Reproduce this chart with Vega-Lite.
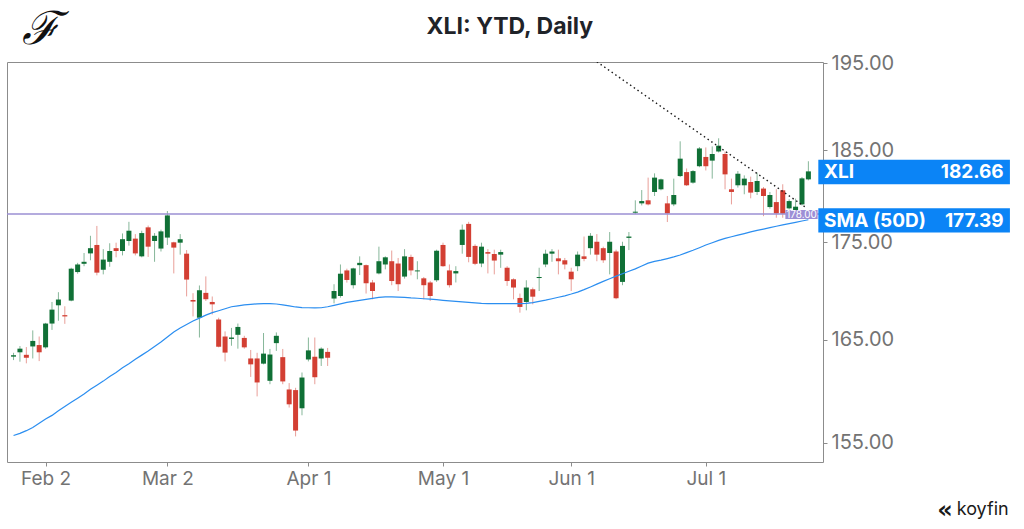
{
  "$schema": "https://vega.github.io/schema/vega-lite/v6.json",
  "description": "XLI: YTD, Daily candlesticks with 50-day SMA",
  "width": 816,
  "height": 400,
  "autosize": {"type": "none"},
  "padding": {"left": 7, "top": 62, "right": 201, "bottom": 67},
  "background": "white",
  "config": {
    "font": "Inter",
    "view": {"stroke": "#8c8c8c", "strokeWidth": 1},
    "axis": {"domain": false, "grid": false, "tickColor": "#8c8c8c", "tickSize": 4, "labelColor": "#737373", "labelFont": "Inter", "labelFontSize": 20, "labelFlush": false, "labelOverlap": false}
  },
  "datasets": {
    "candles": [
      {"d": "2026-01-26", "t": 0, "o": 163.30, "h": 163.68, "l": 162.96, "c": 163.44, "sma": 155.70},
      {"d": "2026-01-27", "t": 1, "o": 163.73, "h": 164.35, "l": 162.80, "c": 164.09, "sma": 155.90},
      {"d": "2026-01-28", "t": 2, "o": 163.48, "h": 164.25, "l": 162.64, "c": 163.19, "sma": 156.15},
      {"d": "2026-01-29", "t": 3, "o": 164.31, "h": 165.91, "l": 163.12, "c": 164.86, "sma": 156.45},
      {"d": "2026-01-30", "t": 4, "o": 164.45, "h": 165.30, "l": 162.86, "c": 163.73, "sma": 156.85},
      {"d": "2026-02-02", "t": 5, "o": 164.22, "h": 166.67, "l": 164.09, "c": 166.60, "sma": 157.25},
      {"d": "2026-02-03", "t": 6, "o": 166.60, "h": 168.79, "l": 165.96, "c": 168.01, "sma": 157.60},
      {"d": "2026-02-04", "t": 7, "o": 168.45, "h": 169.79, "l": 166.88, "c": 169.04, "sma": 158.05},
      {"d": "2026-02-05", "t": 8, "o": 167.45, "h": 168.35, "l": 166.57, "c": 167.32, "sma": 158.45},
      {"d": "2026-02-06", "t": 9, "o": 168.93, "h": 172.32, "l": 168.86, "c": 172.22, "sma": 158.85},
      {"d": "2026-02-09", "t": 10, "o": 171.87, "h": 172.83, "l": 171.70, "c": 172.66, "sma": 159.25},
      {"d": "2026-02-10", "t": 11, "o": 172.73, "h": 173.86, "l": 172.48, "c": 172.94, "sma": 159.65},
      {"d": "2026-02-11", "t": 12, "o": 173.82, "h": 175.68, "l": 173.10, "c": 174.37, "sma": 160.10},
      {"d": "2026-02-12", "t": 13, "o": 174.71, "h": 176.73, "l": 171.53, "c": 171.81, "sma": 160.50},
      {"d": "2026-02-13", "t": 14, "o": 172.11, "h": 174.27, "l": 171.63, "c": 173.17, "sma": 160.90},
      {"d": "2026-02-17", "t": 15, "o": 172.94, "h": 174.89, "l": 172.42, "c": 174.07, "sma": 161.35},
      {"d": "2026-02-18", "t": 16, "o": 174.37, "h": 174.95, "l": 173.41, "c": 174.07, "sma": 161.75},
      {"d": "2026-02-19", "t": 17, "o": 174.07, "h": 175.93, "l": 173.61, "c": 175.32, "sma": 162.20},
      {"d": "2026-02-20", "t": 18, "o": 175.13, "h": 177.17, "l": 174.64, "c": 176.22, "sma": 162.60},
      {"d": "2026-02-23", "t": 19, "o": 175.38, "h": 175.86, "l": 173.61, "c": 173.82, "sma": 163.05},
      {"d": "2026-02-24", "t": 20, "o": 173.51, "h": 176.22, "l": 173.41, "c": 175.97, "sma": 163.45},
      {"d": "2026-02-25", "t": 21, "o": 176.58, "h": 176.77, "l": 173.45, "c": 174.53, "sma": 163.85},
      {"d": "2026-02-26", "t": 22, "o": 175.13, "h": 175.97, "l": 172.94, "c": 175.68, "sma": 164.30},
      {"d": "2026-02-27", "t": 23, "o": 174.33, "h": 176.33, "l": 174.02, "c": 176.15, "sma": 164.75},
      {"d": "2026-03-02", "t": 24, "o": 175.49, "h": 178.33, "l": 174.71, "c": 177.86, "sma": 165.25},
      {"d": "2026-03-03", "t": 25, "o": 174.99, "h": 175.05, "l": 171.73, "c": 174.43, "sma": 165.75},
      {"d": "2026-03-04", "t": 26, "o": 174.95, "h": 175.86, "l": 173.69, "c": 175.32, "sma": 166.15},
      {"d": "2026-03-05", "t": 27, "o": 173.79, "h": 174.17, "l": 169.36, "c": 171.09, "sma": 166.50},
      {"d": "2026-03-06", "t": 28, "o": 168.99, "h": 169.69, "l": 167.32, "c": 168.83, "sma": 166.85},
      {"d": "2026-03-09", "t": 29, "o": 167.19, "h": 170.48, "l": 165.20, "c": 169.99, "sma": 167.15},
      {"d": "2026-03-10", "t": 30, "o": 169.72, "h": 171.42, "l": 168.89, "c": 169.07, "sma": 167.45},
      {"d": "2026-03-11", "t": 31, "o": 168.79, "h": 169.35, "l": 167.52, "c": 168.55, "sma": 167.70},
      {"d": "2026-03-12", "t": 32, "o": 167.01, "h": 167.19, "l": 164.22, "c": 164.28, "sma": 167.90},
      {"d": "2026-03-13", "t": 33, "o": 165.30, "h": 165.81, "l": 162.83, "c": 163.70, "sma": 168.10},
      {"d": "2026-03-16", "t": 34, "o": 165.06, "h": 166.16, "l": 164.38, "c": 165.20, "sma": 168.30},
      {"d": "2026-03-17", "t": 35, "o": 165.47, "h": 166.60, "l": 164.09, "c": 166.26, "sma": 168.40},
      {"d": "2026-03-18", "t": 36, "o": 165.16, "h": 165.37, "l": 164.09, "c": 164.22, "sma": 168.50},
      {"d": "2026-03-19", "t": 37, "o": 163.12, "h": 163.96, "l": 161.31, "c": 162.54, "sma": 168.55},
      {"d": "2026-03-20", "t": 38, "o": 163.12, "h": 163.68, "l": 159.42, "c": 160.77, "sma": 168.60},
      {"d": "2026-03-23", "t": 39, "o": 162.61, "h": 165.65, "l": 162.54, "c": 163.60, "sma": 168.62},
      {"d": "2026-03-24", "t": 40, "o": 160.93, "h": 164.06, "l": 160.60, "c": 163.51, "sma": 168.62},
      {"d": "2026-03-25", "t": 41, "o": 164.64, "h": 165.71, "l": 163.87, "c": 165.37, "sma": 168.58},
      {"d": "2026-03-26", "t": 42, "o": 163.25, "h": 164.06, "l": 160.60, "c": 160.87, "sma": 168.50},
      {"d": "2026-03-27", "t": 43, "o": 160.09, "h": 160.71, "l": 158.35, "c": 158.66, "sma": 168.40},
      {"d": "2026-03-30", "t": 44, "o": 160.03, "h": 160.25, "l": 155.61, "c": 156.16, "sma": 168.28},
      {"d": "2026-03-31", "t": 45, "o": 158.28, "h": 161.74, "l": 157.61, "c": 161.25, "sma": 168.22},
      {"d": "2026-04-01", "t": 46, "o": 163.02, "h": 165.20, "l": 162.83, "c": 163.92, "sma": 168.20},
      {"d": "2026-04-02", "t": 47, "o": 163.29, "h": 165.20, "l": 160.60, "c": 161.28, "sma": 168.18},
      {"d": "2026-04-06", "t": 48, "o": 163.12, "h": 164.22, "l": 162.38, "c": 164.09, "sma": 168.20},
      {"d": "2026-04-07", "t": 49, "o": 163.77, "h": 164.16, "l": 162.38, "c": 163.19, "sma": 168.30},
      {"d": "2026-04-08", "t": 50, "o": 169.14, "h": 170.61, "l": 168.65, "c": 169.91, "sma": 168.45},
      {"d": "2026-04-09", "t": 51, "o": 169.40, "h": 172.66, "l": 169.23, "c": 171.70, "sma": 168.60},
      {"d": "2026-04-10", "t": 52, "o": 172.04, "h": 172.22, "l": 170.78, "c": 171.05, "sma": 168.75},
      {"d": "2026-04-13", "t": 53, "o": 170.51, "h": 172.32, "l": 170.17, "c": 172.25, "sma": 168.85},
      {"d": "2026-04-14", "t": 54, "o": 172.59, "h": 173.51, "l": 171.56, "c": 172.83, "sma": 168.95},
      {"d": "2026-04-15", "t": 55, "o": 172.59, "h": 172.66, "l": 169.65, "c": 170.71, "sma": 169.05},
      {"d": "2026-04-16", "t": 56, "o": 170.79, "h": 171.05, "l": 169.06, "c": 169.91, "sma": 169.15},
      {"d": "2026-04-17", "t": 57, "o": 171.73, "h": 174.53, "l": 171.63, "c": 173.00, "sma": 169.25},
      {"d": "2026-04-20", "t": 58, "o": 172.66, "h": 173.51, "l": 172.15, "c": 173.41, "sma": 169.30},
      {"d": "2026-04-21", "t": 59, "o": 173.00, "h": 174.12, "l": 170.51, "c": 170.94, "sma": 169.30},
      {"d": "2026-04-22", "t": 60, "o": 172.76, "h": 173.34, "l": 169.91, "c": 170.61, "sma": 169.28},
      {"d": "2026-04-23", "t": 61, "o": 171.40, "h": 174.27, "l": 171.19, "c": 173.51, "sma": 169.25},
      {"d": "2026-04-24", "t": 62, "o": 173.45, "h": 173.69, "l": 171.53, "c": 172.04, "sma": 169.20},
      {"d": "2026-04-27", "t": 63, "o": 171.94, "h": 173.00, "l": 171.12, "c": 172.04, "sma": 169.17},
      {"d": "2026-04-28", "t": 64, "o": 171.22, "h": 171.36, "l": 169.06, "c": 170.51, "sma": 169.12},
      {"d": "2026-04-29", "t": 65, "o": 170.79, "h": 170.95, "l": 168.89, "c": 169.40, "sma": 169.07},
      {"d": "2026-04-30", "t": 66, "o": 171.02, "h": 174.21, "l": 170.85, "c": 174.10, "sma": 169.02},
      {"d": "2026-05-01", "t": 67, "o": 174.71, "h": 174.95, "l": 172.42, "c": 172.48, "sma": 168.96},
      {"d": "2026-05-04", "t": 68, "o": 172.04, "h": 172.66, "l": 170.27, "c": 170.51, "sma": 168.90},
      {"d": "2026-05-05", "t": 69, "o": 171.73, "h": 172.48, "l": 170.79, "c": 171.97, "sma": 168.85},
      {"d": "2026-05-06", "t": 70, "o": 174.71, "h": 176.88, "l": 173.79, "c": 176.33, "sma": 168.80},
      {"d": "2026-05-07", "t": 71, "o": 176.95, "h": 177.17, "l": 172.89, "c": 173.45, "sma": 168.75},
      {"d": "2026-05-08", "t": 72, "o": 174.61, "h": 174.78, "l": 172.59, "c": 172.73, "sma": 168.70},
      {"d": "2026-05-11", "t": 73, "o": 172.76, "h": 174.95, "l": 172.38, "c": 174.53, "sma": 168.65},
      {"d": "2026-05-12", "t": 74, "o": 173.96, "h": 174.27, "l": 171.73, "c": 173.79, "sma": 168.63},
      {"d": "2026-05-13", "t": 75, "o": 173.76, "h": 174.21, "l": 171.63, "c": 173.07, "sma": 168.62},
      {"d": "2026-05-14", "t": 76, "o": 173.69, "h": 174.21, "l": 172.31, "c": 173.96, "sma": 168.62},
      {"d": "2026-05-15", "t": 77, "o": 172.32, "h": 172.48, "l": 170.44, "c": 170.94, "sma": 168.62},
      {"d": "2026-05-18", "t": 78, "o": 171.12, "h": 171.22, "l": 169.06, "c": 170.27, "sma": 168.62},
      {"d": "2026-05-19", "t": 79, "o": 169.20, "h": 169.65, "l": 167.70, "c": 168.28, "sma": 168.62},
      {"d": "2026-05-20", "t": 80, "o": 168.79, "h": 171.02, "l": 167.94, "c": 170.27, "sma": 168.64},
      {"d": "2026-05-21", "t": 81, "o": 170.09, "h": 170.27, "l": 168.55, "c": 169.33, "sma": 168.72},
      {"d": "2026-05-22", "t": 82, "o": 171.25, "h": 172.32, "l": 169.91, "c": 171.36, "sma": 168.85},
      {"d": "2026-05-26", "t": 83, "o": 172.66, "h": 174.21, "l": 172.38, "c": 173.79, "sma": 168.97},
      {"d": "2026-05-27", "t": 84, "o": 173.79, "h": 174.27, "l": 172.94, "c": 174.02, "sma": 169.12},
      {"d": "2026-05-28", "t": 85, "o": 173.30, "h": 174.21, "l": 171.63, "c": 173.00, "sma": 169.27},
      {"d": "2026-05-29", "t": 86, "o": 173.10, "h": 173.34, "l": 172.15, "c": 172.66, "sma": 169.42},
      {"d": "2026-06-01", "t": 87, "o": 171.91, "h": 172.32, "l": 169.91, "c": 171.12, "sma": 169.60},
      {"d": "2026-06-02", "t": 88, "o": 172.48, "h": 174.02, "l": 171.97, "c": 173.69, "sma": 169.80},
      {"d": "2026-06-03", "t": 89, "o": 173.51, "h": 175.60, "l": 173.00, "c": 173.24, "sma": 170.05},
      {"d": "2026-06-04", "t": 90, "o": 174.37, "h": 175.97, "l": 173.69, "c": 175.68, "sma": 170.33},
      {"d": "2026-06-05", "t": 91, "o": 175.05, "h": 175.86, "l": 173.00, "c": 173.69, "sma": 170.62},
      {"d": "2026-06-08", "t": 92, "o": 174.37, "h": 174.53, "l": 172.83, "c": 173.10, "sma": 170.90},
      {"d": "2026-06-09", "t": 93, "o": 173.86, "h": 176.08, "l": 171.63, "c": 175.05, "sma": 171.18},
      {"d": "2026-06-10", "t": 94, "o": 174.02, "h": 174.21, "l": 169.07, "c": 169.17, "sma": 171.45},
      {"d": "2026-06-11", "t": 95, "o": 170.85, "h": 175.05, "l": 170.51, "c": 174.61, "sma": 171.70},
      {"d": "2026-06-12", "t": 96, "o": 175.46, "h": 176.08, "l": 174.17, "c": 175.60, "sma": 171.95},
      {"d": "2026-06-15", "t": 97, "o": 178.15, "h": 179.49, "l": 178.00, "c": 178.26, "sma": 172.20},
      {"d": "2026-06-16", "t": 98, "o": 179.16, "h": 180.61, "l": 178.94, "c": 179.41, "sma": 172.50},
      {"d": "2026-06-17", "t": 99, "o": 179.49, "h": 181.97, "l": 178.94, "c": 179.05, "sma": 172.80},
      {"d": "2026-06-18", "t": 100, "o": 180.40, "h": 182.44, "l": 179.96, "c": 181.97, "sma": 172.98},
      {"d": "2026-06-22", "t": 101, "o": 180.69, "h": 181.86, "l": 180.58, "c": 181.78, "sma": 173.12},
      {"d": "2026-06-23", "t": 102, "o": 179.16, "h": 179.96, "l": 177.15, "c": 178.07, "sma": 173.28},
      {"d": "2026-06-24", "t": 103, "o": 179.05, "h": 181.86, "l": 178.86, "c": 180.07, "sma": 173.45},
      {"d": "2026-06-25", "t": 104, "o": 182.14, "h": 186.01, "l": 182.03, "c": 184.07, "sma": 173.65},
      {"d": "2026-06-26", "t": 105, "o": 182.58, "h": 182.98, "l": 181.05, "c": 181.13, "sma": 173.90},
      {"d": "2026-06-29", "t": 106, "o": 181.42, "h": 182.80, "l": 181.31, "c": 182.69, "sma": 174.15},
      {"d": "2026-06-30", "t": 107, "o": 183.23, "h": 185.37, "l": 183.12, "c": 185.21, "sma": 174.42},
      {"d": "2026-07-01", "t": 108, "o": 184.26, "h": 185.32, "l": 182.76, "c": 183.23, "sma": 174.70},
      {"d": "2026-07-02", "t": 109, "o": 183.85, "h": 185.44, "l": 181.86, "c": 184.59, "sma": 174.95},
      {"d": "2026-07-06", "t": 110, "o": 184.87, "h": 186.35, "l": 184.76, "c": 185.52, "sma": 175.20},
      {"d": "2026-07-07", "t": 111, "o": 184.59, "h": 184.87, "l": 180.69, "c": 182.33, "sma": 175.40},
      {"d": "2026-07-08", "t": 112, "o": 180.69, "h": 181.86, "l": 179.05, "c": 180.40, "sma": 175.58},
      {"d": "2026-07-09", "t": 113, "o": 181.13, "h": 182.69, "l": 180.88, "c": 182.40, "sma": 175.75},
      {"d": "2026-07-10", "t": 114, "o": 181.13, "h": 182.22, "l": 180.15, "c": 181.86, "sma": 175.92},
      {"d": "2026-07-13", "t": 115, "o": 181.49, "h": 182.08, "l": 179.71, "c": 180.33, "sma": 176.10},
      {"d": "2026-07-14", "t": 116, "o": 180.40, "h": 182.51, "l": 180.07, "c": 181.60, "sma": 176.25},
      {"d": "2026-07-15", "t": 117, "o": 180.77, "h": 180.94, "l": 177.78, "c": 179.96, "sma": 176.40},
      {"d": "2026-07-16", "t": 118, "o": 178.76, "h": 180.40, "l": 178.58, "c": 180.07, "sma": 176.55},
      {"d": "2026-07-17", "t": 119, "o": 179.30, "h": 180.69, "l": 177.61, "c": 178.07, "sma": 176.70},
      {"d": "2026-07-20", "t": 120, "o": 180.58, "h": 181.24, "l": 177.61, "c": 178.04, "sma": 176.85},
      {"d": "2026-07-21", "t": 121, "o": 178.62, "h": 179.60, "l": 178.51, "c": 179.41, "sma": 176.98},
      {"d": "2026-07-22", "t": 122, "o": 178.43, "h": 179.68, "l": 178.15, "c": 178.80, "sma": 177.12},
      {"d": "2026-07-23", "t": 123, "o": 179.05, "h": 182.03, "l": 178.94, "c": 181.89, "sma": 177.26},
      {"d": "2026-07-24", "t": 124, "o": 181.78, "h": 183.78, "l": 181.67, "c": 182.66, "sma": 177.39}
    ],
    "levels": [{"level": 178}],
    "trend": [{"t": 91, "p": 195.18}, {"t": 123.5, "p": 178.76}],
    "tags": [{"name": "XLI", "value": 182.66}, {"name": "SMA (50D)", "value": 177.39}],
    "brand": [{"name": "koyfin", "title": "XLI: YTD, Daily"}]
  },
  "data": {"name": "candles"},
  "layer": [
    {
      "mark": {"type": "rule", "strokeWidth": 1, "opacity": 0.5},
      "encoding": {
        "x": {
          "field": "t", "type": "quantitative",
          "scale": {"domain": [-0.24, 125.5], "nice": false, "zero": false},
          "axis": {
            "title": null,
            "values": [5, 24, 46, 67, 87, 108],
            "labelExpr": "datum.value == 5 ? 'Feb 2' : datum.value == 24 ? 'Mar 2' : datum.value == 46 ? 'Apr 1' : datum.value == 67 ? 'May 1' : datum.value == 87 ? 'Jun 1' : 'Jul 1'",
            "labelFontSize": 19,
            "labelPadding": 3
          }
        },
        "y": {
          "field": "l", "type": "quantitative",
          "scale": {"type": "log", "domain": [153.22, 195.15], "nice": false, "zero": false},
          "axis": {"title": null, "orient": "right", "values": [155, 165, 175, 185, 195], "format": ".2f", "labelPadding": 4}
        },
        "y2": {"field": "h"},
        "color": {"condition": {"test": "datum.c >= datum.o", "value": "#107036"}, "value": "#d33f33"}
      }
    },
    {
      "mark": {"type": "bar", "width": 5, "minBandSize": 1.5},
      "encoding": {
        "x": {"field": "t", "type": "quantitative"},
        "y": {"field": "o", "type": "quantitative", "title": null},
        "y2": {"field": "c"},
        "color": {"condition": {"test": "datum.c >= datum.o", "value": "#107036"}, "value": "#d33f33"}
      }
    },
    {
      "mark": {"type": "line", "color": "#2b8ef0", "strokeWidth": 1.2},
      "encoding": {
        "x": {"field": "t", "type": "quantitative"},
        "y": {"field": "sma", "type": "quantitative", "title": null}
      }
    },
    {
      "data": {"name": "levels"},
      "mark": {"type": "rule", "color": "#9b8fd3", "strokeWidth": 1.5},
      "encoding": {"y": {"field": "level", "type": "quantitative", "title": null}}
    },
    {
      "data": {"name": "trend"},
      "mark": {"type": "line", "color": "#1a1a1a", "strokeWidth": 1.4, "strokeDash": [1.5, 3], "clip": true},
      "encoding": {
        "x": {"field": "t", "type": "quantitative"},
        "y": {"field": "p", "type": "quantitative", "title": null}
      }
    },
    {
      "data": {"name": "levels"},
      "mark": {"type": "rect", "color": "#9d8fd6", "yOffset": -4, "y2Offset": 5},
      "encoding": {
        "x": {"datum": 120.41},
        "x2": {"datum": 125.45},
        "y": {"field": "level", "type": "quantitative", "title": null},
        "y2": {"field": "level"}
      }
    },
    {
      "data": {"name": "levels"},
      "mark": {"type": "text", "color": "#ffffff", "fontSize": 10, "font": "Inter", "dy": 1},
      "encoding": {
        "x": {"datum": 122.93},
        "y": {"field": "level", "type": "quantitative", "title": null},
        "text": {"field": "level", "type": "quantitative", "format": ".2f"}
      }
    },
    {
      "data": {"name": "tags"},
      "mark": {"type": "rect", "color": "#0b84f6", "yOffset": -11.5, "y2Offset": 12.8},
      "encoding": {
        "x": {"datum": 125.55},
        "x2": {"datum": 155.44},
        "y": {"field": "value", "type": "quantitative", "title": null},
        "y2": {"field": "value"}
      }
    },
    {
      "data": {"name": "tags"},
      "mark": {"type": "text", "align": "left", "color": "#ffffff", "fontSize": 19, "fontWeight": "bold", "font": "Inter", "dy": 1},
      "encoding": {
        "x": {"datum": 126.45},
        "y": {"field": "value", "type": "quantitative", "title": null},
        "text": {"field": "name"}
      }
    },
    {
      "data": {"name": "tags"},
      "mark": {"type": "text", "align": "right", "color": "#ffffff", "fontSize": 19, "fontWeight": "bold", "font": "Inter", "dy": 1},
      "encoding": {
        "x": {"datum": 154.47},
        "y": {"field": "value", "type": "quantitative", "title": null},
        "text": {"field": "value", "type": "quantitative", "format": ".2f"}
      }
    },
    {
      "data": {"name": "brand"},
      "mark": {"type": "text", "align": "center", "baseline": "middle", "color": "#1f2329", "fontSize": 23, "fontWeight": "bold", "font": "Inter"},
      "encoding": {
        "x": {"datum": 77.42},
        "y": {"datum": 199.33},
        "text": {"field": "title"}
      }
    },
    {
      "data": {"name": "brand"},
      "mark": {"type": "text", "align": "right", "color": "#1a1a1a", "fontSize": 18, "font": "Inter"},
      "encoding": {
        "x": {"datum": 155.24},
        "y": {"datum": 148.85},
        "text": {"field": "name"}
      }
    },
    {
      "data": {"name": "brand"},
      "mark": {"type": "text", "align": "center", "color": "#1a1a1a", "fontSize": 24, "fontWeight": "bold", "font": "DejaVu Sans"},
      "encoding": {
        "x": {"datum": 145.3},
        "y": {"datum": 148.75},
        "text": {"value": "«"}
      }
    },
    {
      "data": {"name": "brand"},
      "mark": {"type": "text", "align": "center", "color": "#111111", "fontSize": 46, "font": "DejaVu Serif", "fontStyle": "italic"},
      "encoding": {
        "x": {"datum": 4.23},
        "y": {"datum": 198.97},
        "text": {"value": "ℱ"}
      }
    }
  ]
}
